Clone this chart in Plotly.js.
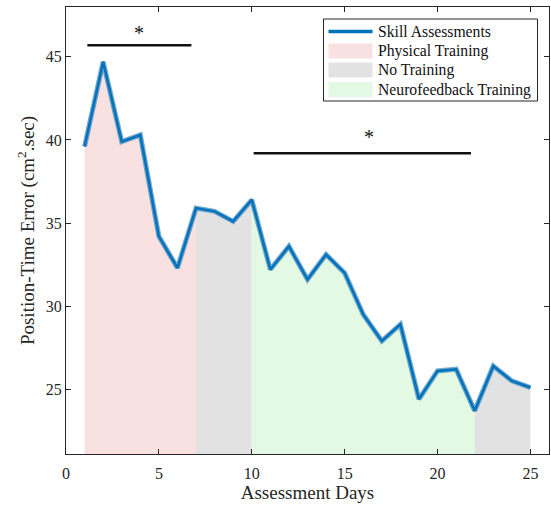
<!DOCTYPE html>
<html>
<head>
<meta charset="utf-8">
<script src="https://cdn.plot.ly/plotly-3.0.1.min.js"></script>
<style>html,body{margin:0;padding:0;background:#fff}#chart{width:551px;height:506px}</style>
</head>
<body>
<div id="chart"></div>
<script>
// ---- data ----
const days = [1,2,3,4,5,6,7,8,9,10,11,12,13,14,15,16,17,18,19,20,21,22,23,24,25];
const errorValues = [39.6,44.7,39.9,40.3,34.2,32.3,35.9,35.7,35.1,36.4,32.2,33.6,31.6,33.1,32.0,29.5,27.9,28.9,24.4,26.1,26.2,23.7,26.4,25.5,25.1];
const phaseNames = ["Physical Training","No Training","Neurofeedback Training"];
const physicalDays = [1,7];      // first/last day of each phase
const noTrainDays1 = [7,10];
const neuroDays = [10,22];
const noTrainDays2 = [22,25];
const sig1X = [1.15,6.75], sig1Y = [45.7,45.7];
const sig2X = [10.1,21.8], sig2Y = [39.2,39.2];
const starX = [3.95,16.3], starY = [46.45,40.15];
const xTicks = [0,5,10,15,20,25];
const yTicks = [25,30,35,40,45];

const FONT = "Liberation Serif, Times New Roman, serif";
const pink = "#f9e1e1", gray = "#e2e2e2", green = "#e3f9e3", blue = "#0072BD";

function segment(range){
  const i0 = days.indexOf(range[0]), i1 = days.indexOf(range[1]);
  return {x: days.slice(i0, i1+1), y: errorValues.slice(i0, i1+1)};
}
function fillTrace(range, color, name){
  const s = segment(range);
  return {x: s.x, y: s.y, type:'scatter', mode:'lines', fill:'tozeroy',
          fillcolor: color, line:{width:0, color: color}, name: name,
          showlegend:false, hoverinfo:'skip'};
}

const traces = [
  fillTrace(physicalDays, pink, phaseNames[0]),
  fillTrace(noTrainDays1, gray, phaseNames[1]),
  fillTrace(neuroDays, green, phaseNames[2]),
  fillTrace(noTrainDays2, gray, phaseNames[1]),
  {x: days, y: errorValues, type:'scatter', mode:'lines', line:{color:'rgba(70,140,190,0.75)', width:5}, showlegend:false, hoverinfo:'skip'},
  {x: days, y: errorValues, type:'scatter', mode:'lines', line:{color:blue, width:2.5}, name:'Skill Assessments', showlegend:false},
  {x: sig1X, y: sig1Y, type:'scatter', mode:'lines', line:{color:'#111', width:2.5}, showlegend:false, hoverinfo:'skip'},
  {x: sig2X, y: sig2Y, type:'scatter', mode:'lines', line:{color:'#111', width:2.5}, showlegend:false, hoverinfo:'skip'}
];

// manual legend (paper coordinates)
const L = 66, R = 549, T = 7, B = 454, W = R - L, H = B - T;
const px = v => (v - L) / W, py = v => 1 - (v - T) / H;
const legendLabels = ["Skill Assessments", phaseNames[0], phaseNames[1], phaseNames[2]];
const legendRowY = [31.5, 51, 70, 89.5];
const legendColors = [blue, pink, gray, green];

const shapes = [
  {type:'rect', xref:'paper', yref:'paper', x0:px(323.5), x1:px(537.5), y0:py(101), y1:py(19),
   line:{color:'#262626', width:1}, fillcolor:'rgba(255,255,255,1)', layer:'above'}
];
const annotations = starX.map((x, i) => ({x: x, y: starY[i], xref:'x', yref:'y', text:'*', showarrow:false,
  xanchor:'center', yanchor:'middle', font:{family:FONT, size:20, color:'#111'}}));
legendLabels.forEach((lab, i) => {
  const yc = legendRowY[i];
  if (i === 0) {
    shapes.push({type:'line', xref:'paper', yref:'paper', x0:px(328.5), x1:px(372.5), y0:py(yc), y1:py(yc),
      line:{color:legendColors[i], width:3.5}, layer:'above'});
  } else {
    shapes.push({type:'rect', xref:'paper', yref:'paper', x0:px(328.5), x1:px(372.5), y0:py(yc+7.5), y1:py(yc-7.5),
      line:{width:0}, fillcolor:legendColors[i], layer:'above'});
  }
  annotations.push({xref:'paper', yref:'paper', x:px(376), y:py(yc), xanchor:'left', yanchor:'middle',
    text: lab, showarrow:false, font:{family:FONT, size:15.7, color:'#111'}});
});

const axisCommon = {showline:true, linecolor:'#262626', linewidth:1, mirror:'ticks', ticks:'inside',
  ticklen:5, tickcolor:'#262626', tickwidth:1, zeroline:false, showgrid:false,
  tickfont:{family:FONT, size:16, color:'#262626'}};

const layout = {
  width:551, height:506,
  margin:{l:L, r:551-R, t:T, b:506-B},
  paper_bgcolor:'#fff', plot_bgcolor:'#fff',
  showlegend:false,
  xaxis: Object.assign({}, axisCommon, {range:[0,26], tickvals:xTicks, ticktext:xTicks.map(String),
    ticklabelstandoff:5,
    title:{text:'Assessment Days', font:{family:FONT, size:19, color:'#262626'}, standoff:3}}),
  yaxis: Object.assign({}, axisCommon, {range:[21.1,48], tickvals:yTicks, ticktext:yTicks.map(String),
    title:{text:'Position-Time Error (cm<sup>2</sup>.sec)', font:{family:FONT, size:19, color:'#262626'}, standoff:6}}),
  shapes: shapes,
  annotations: annotations
};

Plotly.newPlot('chart', traces, layout, {displayModeBar:false, staticPlot:true});
</script>
</body>
</html>
